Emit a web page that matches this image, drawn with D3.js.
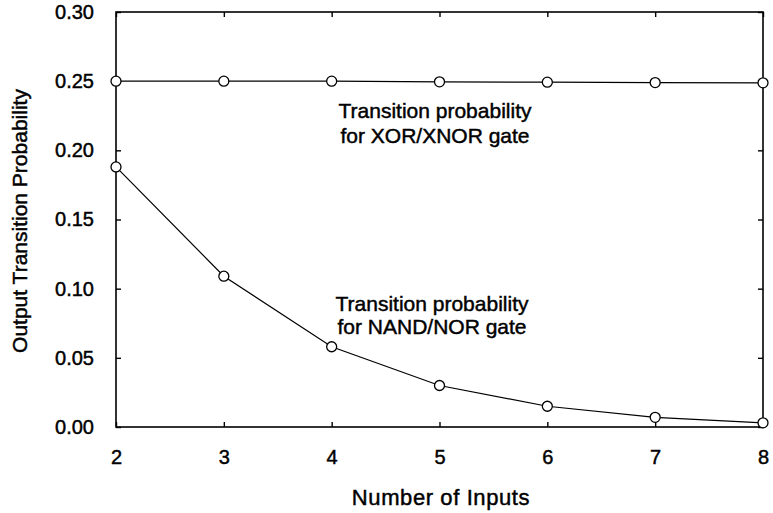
<!DOCTYPE html>
<html><head><meta charset="utf-8">
<script src="https://cdn.jsdelivr.net/npm/d3@7"></script>
<style>
body{margin:0;background:#fff;}
text{font-family:"Liberation Sans",Arial,sans-serif;fill:#000;stroke:#000;stroke-width:0.45px;}
</style></head><body>
<svg id="c" width="773" height="513"></svg>
<script>
const inputs = [2, 3, 4, 5, 6, 7, 8];
const xorValues = [0.250, 0.250, 0.250, 0.2495, 0.2493, 0.249, 0.2488];
const nandValues = [0.188, 0.109, 0.058, 0.030, 0.015, 0.007, 0.003];
const yTicks = [0, 0.05, 0.10, 0.15, 0.20, 0.25, 0.30];
const xTicks = [2, 3, 4, 5, 6, 7, 8];

const svg = d3.select("#c");
const L = 116, R = 763, T = 12, B = 427;
const x = d3.scaleLinear().domain([2, 8]).range([L, R]);
const y = d3.scaleLinear().domain([0, 0.30]).range([B, T]);

svg.append("rect").attr("x", L).attr("y", T).attr("width", R - L).attr("height", B - T)
  .attr("fill", "none").attr("stroke", "#000").attr("stroke-width", 1.6);

const fmt = d3.format(".2f");
const gB = svg.append("g").attr("transform", `translate(0,${B})`)
  .call(d3.axisBottom(x).tickValues(xTicks).tickSizeInner(-5).tickSizeOuter(0).tickPadding(23).tickFormat(d3.format("d")));
const gT = svg.append("g").attr("transform", `translate(0,${T})`)
  .call(d3.axisTop(x).tickValues(xTicks).tickSizeInner(-5).tickSizeOuter(0).tickFormat(""));
const gL = svg.append("g").attr("transform", `translate(${L},0)`)
  .call(d3.axisLeft(y).tickValues(yTicks).tickSizeInner(-5).tickSizeOuter(0).tickPadding(22).tickFormat(fmt));
const gR = svg.append("g").attr("transform", `translate(${R},0)`)
  .call(d3.axisRight(y).tickValues(yTicks).tickSizeInner(-5).tickSizeOuter(0).tickFormat(""));
[gB, gT, gL, gR].forEach(g => {
  g.attr("font-size", null).attr("font-family", null);
  g.select(".domain").remove();
  g.selectAll(".tick line").attr("stroke", "#000").attr("stroke-width", 1.4);
  g.selectAll("text").style("font-size", "20px");
});

const line = d3.line().x((d, i) => x(inputs[i])).y(d => y(d));
[xorValues, nandValues].forEach(vals => {
  svg.append("path").datum(vals).attr("d", line).attr("fill", "none")
    .attr("stroke", "#000").attr("stroke-width", 1.2);
  svg.selectAll(null).data(vals).enter().append("circle")
    .attr("cx", (d, i) => x(inputs[i])).attr("cy", d => y(d)).attr("r", 5)
    .attr("fill", "#fff").attr("stroke", "#000").attr("stroke-width", 1.3);
});

function note(cx, y1, gap, lines) {
  lines.forEach((t, i) => svg.append("text").attr("x", cx).attr("y", y1 + i * gap)
    .attr("text-anchor", "middle").style("font-size", "21px").text(t));
}
note(435, 118, 25, ["Transition probability", "for XOR/XNOR gate"]);
note(432, 311, 23, ["Transition probability", "for NAND/NOR gate"]);

svg.append("text").attr("x", 441).attr("y", 505).attr("text-anchor", "middle")
  .style("font-size", "22px").style("letter-spacing", "0.6px").text("Number of Inputs");
svg.append("text").attr("transform", "translate(27,221) rotate(-90)").attr("text-anchor", "middle")
  .style("font-size", "21px").text("Output Transition Probability");
</script></body></html>
